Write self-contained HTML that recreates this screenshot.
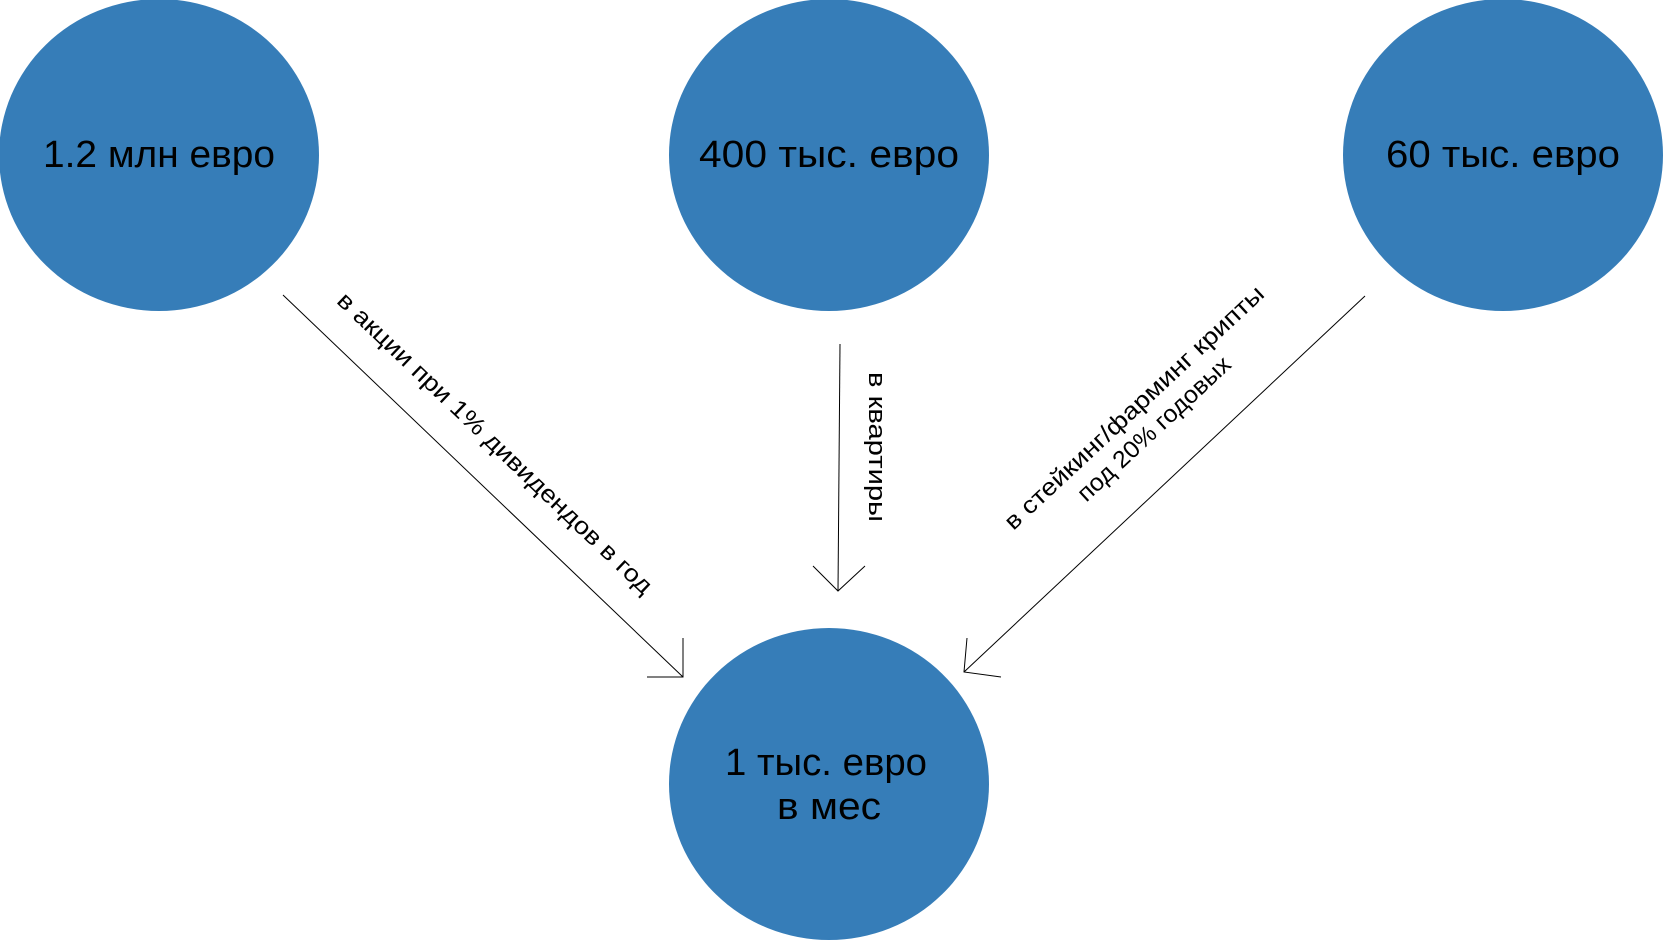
<!DOCTYPE html>
<html><head><meta charset="utf-8"><style>
html,body{margin:0;padding:0;background:#fff;width:1663px;height:940px;overflow:hidden}
svg{display:block}
text{font-family:"Liberation Sans","DejaVu Sans",sans-serif;fill:#000}
</style></head><body>
<svg width="1663" height="940" viewBox="0 0 1663 940" xmlns="http://www.w3.org/2000/svg">
<g fill="#367db8">
<ellipse cx="159" cy="155" rx="160" ry="156"/>
<ellipse cx="829" cy="155" rx="160" ry="156"/>
<ellipse cx="1503" cy="155" rx="160" ry="156"/>
<ellipse cx="829" cy="784" rx="160" ry="156"/>
</g>
<g font-size="38" text-anchor="middle">
<text x="159" y="167" textLength="232" lengthAdjust="spacingAndGlyphs">1.2 млн евро</text>
<text x="829" y="167" textLength="260" lengthAdjust="spacingAndGlyphs">400 тыс. евро</text>
<text x="1503" y="167" textLength="234" lengthAdjust="spacingAndGlyphs">60 тыс. евро</text>
<text x="826" y="775" textLength="202" lengthAdjust="spacingAndGlyphs">1 тыс. евро</text>
<text x="829" y="819" textLength="104" lengthAdjust="spacingAndGlyphs">в мес</text>
</g>
<g stroke="#000" stroke-width="1" fill="none">
<line x1="283" y1="295" x2="683" y2="677"/>
<polyline points="647,677 683,677 683,638"/>
<line x1="840" y1="344" x2="838" y2="591"/>
<polyline points="813,566 838,591 865,566"/>
<line x1="1365" y1="296" x2="964" y2="672"/>
<polyline points="967,638 964,672 1001,677"/>
</g>
<g font-size="24" text-anchor="middle">
<text transform="translate(495,443) rotate(43.6)" y="8" textLength="425" lengthAdjust="spacingAndGlyphs">в акции при 1% дивидендов в год</text>
<text transform="translate(877,447) rotate(90)" y="8" textLength="150" lengthAdjust="spacingAndGlyphs">в квартиры</text>
<g transform="translate(1143,417) rotate(-43)">
<text y="-5" textLength="345" lengthAdjust="spacingAndGlyphs">в стейкинг/фарминг крипты</text>
<text y="24" textLength="200" lengthAdjust="spacingAndGlyphs">под 20% годовых</text>
</g>
</g>
</svg>
</body></html>
